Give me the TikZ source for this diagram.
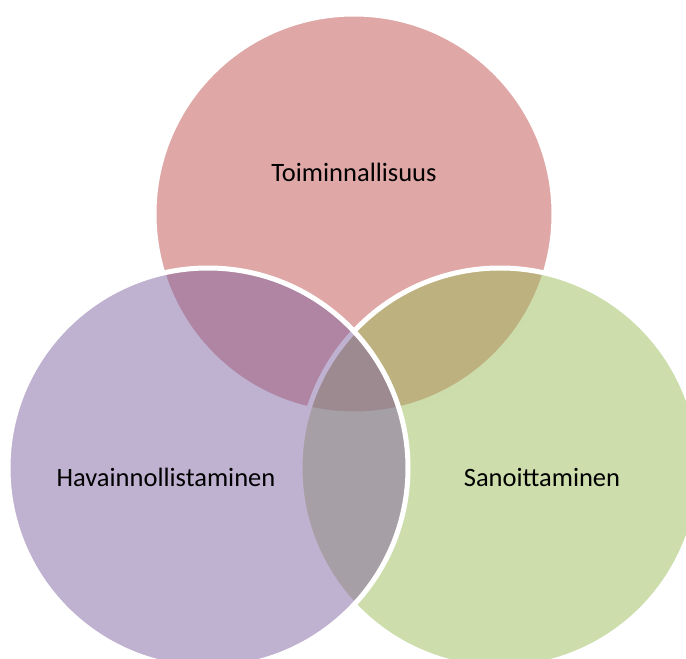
\documentclass[tikz,border=0pt]{standalone}
\usepackage{fontspec}
\setmainfont{Carlito}
\usepackage{tikz}
\usetikzlibrary{positioning}
\definecolor{accRed}{HTML}{C0504D}
\definecolor{accGreen}{HTML}{9BBB59}
\definecolor{accPurple}{HTML}{8064A2}
\tikzset{
    set/.style={
           circle,
           draw=white, line width=5pt,
           fill opacity=0.5,
           draw opacity=1,
           minimum size=400pt,
           inner sep=0pt, outer sep=0pt,
           },
    setlabel/.style={
           font=\fontsize{26.5}{30}\selectfont,
           text=black,
           inner sep=0pt,
           anchor=base,
           },
}
\begin{document}
\begin{tikzpicture}[x=1pt,y=-1pt]

 % page frame, same proportions as the reference
 \useasboundingbox (0,0) rectangle (686,659);

 % the three sets, drawn back to front
 \node[set, fill=accRed]    (TOP)   at (354,214) {};
 \node[set, fill=accGreen]  (RIGHT) at (500,468) {};
 \node[set, fill=accPurple] (LEFT)  at (208,468) {};

 % labels (placed on their baselines)
 \node[setlabel] (T) at (354,181.5) {Toiminnallisuus};
 \node[setlabel] (H) at (166,486.5) {Havainnollistaminen};
 \node[setlabel] (S) at (542,486.5) {Sanoittaminen};

\end{tikzpicture}
\end{document}
